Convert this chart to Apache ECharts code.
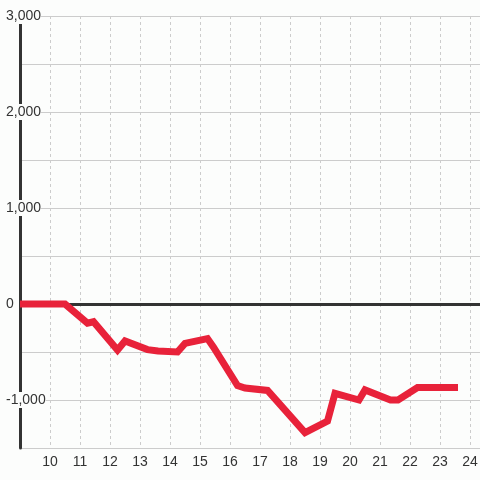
<!DOCTYPE html>
<html><head><meta charset="utf-8">
<script src="https://cdn.jsdelivr.net/npm/echarts@6/dist/echarts.min.js"></script>
<style>html,body{margin:0;padding:0;background:#fcfdfc}#c{width:480px;height:480px}</style>
</head><body><div id="c"></div>
<script>
const xValues = [9, 10.5, 11.25, 11.45, 12.25, 12.5, 13.25, 13.6, 14.25, 14.5, 15.25, 15.45, 16.25, 16.5, 17.25, 17.45, 18.5, 19.25, 19.5, 20.3, 20.5, 21.35, 21.6, 22.25, 23.6];
const yValues = [0, 0, -200, -185, -480, -385, -475, -490, -500, -410, -360, -450, -850, -875, -900, -970, -1340, -1220, -930, -1000, -895, -1000, -1000, -870, -870];
const xTicks = [10, 11, 12, 13, 14, 15, 16, 17, 18, 19, 20, 21, 22, 23, 24];
const yTicks = [-1000, 0, 1000, 2000, 3000];

const data = xValues.map((x, i) => [x, yValues[i]]);
const chart = echarts.init(document.getElementById('c'));
const fmt = v => v.toLocaleString('en-US');
chart.setOption({
  backgroundColor: '#fcfdfc',
  animation: false,
  grid: {left: 20, right: 0, top: 16, bottom: 32, containLabel: false, outerBoundsMode: 'none'},
  xAxis: {
    type: 'value', min: 9, max: 24.333, interval: 1,
    axisLine: {show: false, onZero: false},
    axisTick: {show: false},
    axisLabel: {
      color: '#333', fontSize: 14, fontFamily: 'Liberation Sans, Arial, sans-serif', margin: 7,
      showMaxLabel: false,
      formatter: v => xTicks.includes(v) ? String(v) : ''
    },
    splitLine: {show: true, lineStyle: {color: '#ccc', type: [3, 3], width: 1}}
  },
  yAxis: {
    type: 'value', min: -1500, max: 3000, interval: 500,
    axisLine: {show: true, onZero: false, lineStyle: {color: '#333', width: 3}},
    axisTick: {show: false},
    axisLabel: {
      color: '#333', fontSize: 14, fontFamily: 'Liberation Sans, Arial, sans-serif', margin: 14,
      align: 'left', backgroundColor: '#fcfdfc', padding: [2, 0, 0, 0],
      formatter: v => yTicks.includes(v) ? fmt(v) : ''
    },
    splitLine: {show: true, lineStyle: {color: '#ccc', width: 1}}
  },
  series: [{
    type: 'line', data: [], silent: true, z: 1,
    markLine: {
      silent: true, symbol: 'none', label: {show: false},
      lineStyle: {color: '#333', width: 3, type: 'solid'},
      data: [{yAxis: 0}]
    }
  }, {
    type: 'line', data: data, showSymbol: false, symbol: 'none',
    lineStyle: {color: '#e8223a', width: 7, cap: 'butt', join: 'miter'},
    z: 5
  }]
});
</script></body></html>
